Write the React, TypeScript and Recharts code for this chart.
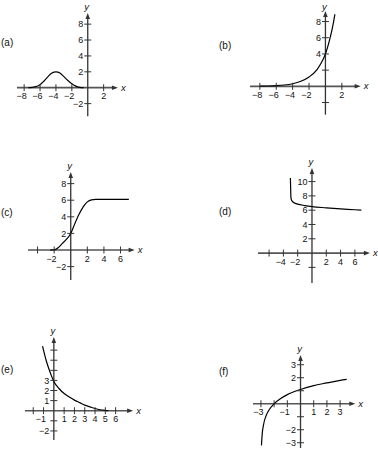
import React from "react";
import { LineChart, Line, XAxis, YAxis, ReferenceLine, ReferenceDot } from "recharts";

// curve values
const aX = [-7.5, -7, -6.5, -6, -5.5, -5, -4.5, -4, -3.5, -3, -2.5, -2, -1.5, -1, -0.5];
const aY = [0, 0.05, 0.15, 0.38, 0.85, 1.4, 1.85, 2.0, 1.85, 1.4, 0.9, 0.5, 0.2, 0.05, 0];

const bX = [-8, -7, -6, -5, -4, -3, -2, -1, -0.5, 0, 0.5, 1, 1.15];
const bY = [0.02, 0.04, 0.08, 0.16, 0.32, 0.62, 1.15, 2.1, 2.9, 4.0, 5.7, 8.0, 8.9];

const cX = [-2.5, -2, -1.5, -1, -0.5, 0, 0.5, 1, 1.5, 2, 2.5, 3, 4, 5, 6, 7];
const cY = [0, 0.02, 0.3, 0.8, 1.3, 2.0, 3.2, 4.3, 5.2, 5.8, 6.05, 6.1, 6.1, 6.1, 6.1, 6.1];

const dX = [-3.02, -2.98, -2.95, -2.9, -2.8, -2.5, -2, -1, 0, 2, 4, 6, 6.9];
const dY = [10.5, 9.0, 7.9, 7.55, 7.3, 7.05, 6.85, 6.65, 6.5, 6.33, 6.18, 6.06, 6.0];

const eX = [-1.1, -0.75, -0.5, -0.25, 0, 0.5, 1, 1.5, 2, 2.5, 3, 3.5, 4, 4.5, 5, 5.3];
const eY = [6.4, 5.0, 4.2, 3.5, 2.9, 2.2, 1.7, 1.35, 1.05, 0.8, 0.55, 0.38, 0.22, 0.1, 0.03, 0];

const fX = [-2.96, -2.9, -2.8, -2.6, -2.4, -2, -1.5, -1, 0, 1, 2, 3, 3.5];
const fY = [-3.2, -2.3, -1.6, -0.9, -0.5, 0, 0.4, 0.7, 1.1, 1.4, 1.6, 1.8, 1.87];

// tick labels (labelled) and bare tick marks
const aTicksX = [-8, -6, -4, -2, 2];
const aTicksY = [8, 6, 4, 2, -2];
const bTicksX = [-8, -6, -4, -2, 2];
const bTicksY = [8, 6, 4];
const bPlainY = [2, -2];
const cTicksX = [-2, 2, 4, 6];
const cPlainX = [-4];
const cTicksY = [8, 6, 4, 2, -2];
const dTicksX = [-4, -2, 2, 4, 6];
const dPlainX = [-6];
const dTicksY = [10, 8, 6, 4, 2];
const dPlainY = [-2];
const eTicksX = [-1, 1, 2, 3, 4, 5, 6];
const ePlainX = [-2];
const eTicksY = [3, 2, 1, -2];
const ePlainY = [6, 5, 4, -1];
const fTicksX = [-3, -1, 1, 2, 3];
const fPlainX = [-2];
const fTicksY = [3, 2, -2, -3];
const fPlainY = [1, -1];

const FONT = "'Liberation Sans', Arial, sans-serif";
const AXIS = "#555";
const INK = "#111";

const fmt = (v: number) => (v < 0 ? "\u2212" + Math.abs(v) : String(v));

function Panel({ cfg, xs, ys, xTicks, xPlain = [], yTicks, yPlain = [] }: any) {
  const pad = 16;
  const x0 = cfg.xExt[0] - pad / cfg.ux;
  const x1 = cfg.xExt[1] + pad / cfg.ux;
  const y0 = cfg.yExt[0] - pad / cfg.uy;
  const y1 = cfg.yExt[1] + pad / cfg.uy;
  const left = cfg.ox + x0 * cfg.ux;
  const width = (x1 - x0) * cfg.ux;
  const top = cfg.oy - y1 * cfg.uy;
  const height = (y1 - y0) * cfg.uy;
  const data = xs.map((x: number, i: number) => ({ x, y: ys[i] }));
  const yLabelDy = cfg.yLabelDy ?? -2.5;

  const xTickShape = (label: string | null) => (p: any) => (
    <g>
      <line x1={p.cx} y1={p.cy - 3.5} x2={p.cx} y2={p.cy + 3.5} stroke="#333" strokeWidth={1} />
      {label !== null && (
        <text
          x={label.startsWith("\u2212") ? p.cx + 2.5 : p.cx}
          y={p.cy + 11.5}
          textAnchor={label.startsWith("\u2212") ? "end" : "middle"}
          fontSize={9}
          fontFamily={FONT}
          fill={INK}
        >
          {label}
        </text>
      )}
    </g>
  );
  const yTickShape = (label: string | null) => (p: any) => (
    <g>
      <line x1={p.cx - 3.5} y1={p.cy} x2={p.cx + 3.5} y2={p.cy} stroke="#333" strokeWidth={1} />
      {label !== null && (
        <text x={p.cx - 4.5} y={p.cy + 3.2} textAnchor="end" fontSize={9} fontFamily={FONT} fill={INK}>
          {label}
        </text>
      )}
    </g>
  );
  const xArrow = (p: any) => (
    <g>
      <polygon points={`${p.cx},${p.cy} ${p.cx - 6},${p.cy - 2.3} ${p.cx - 6},${p.cy + 2.3}`} fill="#333" />
      <text x={p.cx + 3} y={p.cy + 3} fontSize={9.5} fontStyle="italic" fontFamily={FONT} fill={INK}>
        x
      </text>
    </g>
  );
  const yArrow = (p: any) => (
    <g>
      <polygon points={`${p.cx},${p.cy} ${p.cx - 2.3},${p.cy + 6} ${p.cx + 2.3},${p.cy + 6}`} fill="#333" />
      <text x={p.cx - 1} y={p.cy + yLabelDy} textAnchor="middle" fontSize={9.5} fontStyle="italic" fontFamily={FONT} fill={INK}>
        y
      </text>
    </g>
  );

  return (
    <>
      <div
        style={{
          position: "absolute",
          left: cfg.labelPos[0],
          top: cfg.labelPos[1],
          fontFamily: FONT,
          fontSize: 10,
          lineHeight: "11px",
          color: INK,
        }}
      >
        {cfg.label}
      </div>
      <div style={{ position: "absolute", left, top, width, height }}>
        <LineChart width={width} height={height} data={data} margin={{ top: 0, right: 0, bottom: 0, left: 0 }}>
          <XAxis type="number" dataKey="x" domain={[x0, x1]} hide allowDataOverflow />
          <YAxis type="number" domain={[y0, y1]} hide allowDataOverflow />
          <ReferenceLine
            segment={[{ x: cfg.xExt[0], y: 0 }, { x: cfg.xExt[1] - 4 / cfg.ux, y: 0 }]}
            stroke={AXIS}
            strokeWidth={1.7}
          />
          <ReferenceLine
            segment={[{ x: 0, y: cfg.yExt[0] }, { x: 0, y: cfg.yExt[1] - 4 / cfg.uy }]}
            stroke="#333"
            strokeWidth={1.3}
          />
          {xTicks.map((t: number) => (
            <ReferenceDot key={"xt" + t} x={t} y={0} r={1} shape={xTickShape(fmt(t))} />
          ))}
          {xPlain.map((t: number) => (
            <ReferenceDot key={"xp" + t} x={t} y={0} r={1} shape={xTickShape(null)} />
          ))}
          {yTicks.map((t: number) => (
            <ReferenceDot key={"yt" + t} x={0} y={t} r={1} shape={yTickShape(fmt(t))} />
          ))}
          {yPlain.map((t: number) => (
            <ReferenceDot key={"yp" + t} x={0} y={t} r={1} shape={yTickShape(null)} />
          ))}
          <ReferenceDot x={cfg.xExt[1]} y={0} r={1} shape={xArrow} />
          <ReferenceDot x={0} y={cfg.yExt[1]} r={1} shape={yArrow} />
          <Line
            dataKey="y"
            type="monotone"
            dot={false}
            stroke="#000"
            strokeWidth={1.2}
            isAnimationActive={false}
          />
        </LineChart>
      </div>
    </>
  );
}

const cfgA = { label: "(a)", labelPos: [1, 37], ox: 87.5, oy: 87.7, ux: 7.95, uy: 7.95, xExt: [-8.9, 3.8], yExt: [-3.6, 9.4] };
const cfgB = { label: "(b)", labelPos: [219, 40], ox: 325, oy: 86.3, ux: 8.2, uy: 8.1, xExt: [-9.2, 4.3], yExt: [-3.5, 9.3], yLabelDy: -1.2 };
const cfgC = { label: "(c)", labelPos: [1, 207], ox: 71, oy: 250.5, ux: 8.3, uy: 8.3, xExt: [-5.15, 7.7], yExt: [-3.6, 9.4] };
const cfgD = { label: "(d)", labelPos: [219, 206], ox: 312.3, oy: 253.5, ux: 7.15, uy: 7.15, xExt: [-7.55, 8.1], yExt: [-4.2, 11.9] };
const cfgE = { label: "(e)", labelPos: [1, 364], ox: 54, oy: 411, ux: 10.3, uy: 10.1, xExt: [-2.8, 7.7], yExt: [-2.9, 7.3] };
const cfgF = { label: "(f)", labelPos: [219, 366], ox: 300.5, oy: 404, ux: 13.2, uy: 13, xExt: [-3.6, 4.15], yExt: [-3.4, 3.75] };

export default function App() {
  return (
    <div style={{ position: "absolute", left: 0, top: 0, width: 378, height: 450, background: "#fff", overflow: "hidden" }}>
      <Panel cfg={cfgA} xs={aX} ys={aY} xTicks={aTicksX} yTicks={aTicksY} />
      <Panel cfg={cfgB} xs={bX} ys={bY} xTicks={bTicksX} yTicks={bTicksY} yPlain={bPlainY} />
      <Panel cfg={cfgC} xs={cX} ys={cY} xTicks={cTicksX} xPlain={cPlainX} yTicks={cTicksY} />
      <Panel cfg={cfgD} xs={dX} ys={dY} xTicks={dTicksX} xPlain={dPlainX} yTicks={dTicksY} yPlain={dPlainY} />
      <Panel cfg={cfgE} xs={eX} ys={eY} xTicks={eTicksX} xPlain={ePlainX} yTicks={eTicksY} yPlain={ePlainY} />
      <Panel cfg={cfgF} xs={fX} ys={fY} xTicks={fTicksX} xPlain={fPlainX} yTicks={fTicksY} yPlain={fPlainY} />
    </div>
  );
}
